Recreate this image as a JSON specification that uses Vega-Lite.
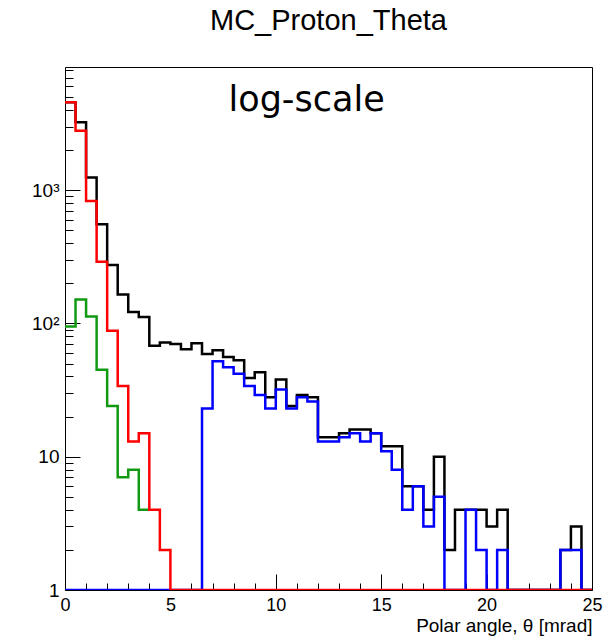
{
  "$schema": "https://vega.github.io/schema/vega-lite/v6.json",
  "autosize": {"type": "none"},
  "width": 527,
  "height": 523,
  "padding": {"left": 65, "top": 67, "right": 24, "bottom": 50},
  "background": "white",
  "title": {"text": "MC_Proton_Theta", "font": "Liberation Sans", "fontSize": 29, "fontWeight": "normal", "color": "#000", "anchor": "middle", "frame": "group", "baseline": "alphabetic", "offset": 2},
  "config": {
    "view": {"stroke": "#000", "strokeWidth": 1},
    "axis": {"grid": false, "domain": false, "labelFont": "Liberation Sans", "labelFontSize": 19, "labelColor": "#000", "tickColor": "#000", "tickWidth": 1, "labelOverlap": false, "labelFlush": false, "titleFont": "Liberation Sans", "titleFontWeight": "normal", "titleColor": "#000"}
  },
  "datasets": {
    "total": [
      {"theta": 0, "count": 4570}, {"theta": 0.5, "count": 3230}, {"theta": 1, "count": 1245}, {"theta": 1.5, "count": 555},
      {"theta": 2, "count": 274}, {"theta": 2.5, "count": 165}, {"theta": 3, "count": 122}, {"theta": 3.5, "count": 112},
      {"theta": 4, "count": 68}, {"theta": 4.5, "count": 72}, {"theta": 5, "count": 70}, {"theta": 5.5, "count": 64},
      {"theta": 6, "count": 71}, {"theta": 6.5, "count": 59}, {"theta": 7, "count": 63}, {"theta": 7.5, "count": 56},
      {"theta": 8, "count": 53}, {"theta": 8.5, "count": 39}, {"theta": 9, "count": 43}, {"theta": 9.5, "count": 28},
      {"theta": 10, "count": 38}, {"theta": 10.5, "count": 24}, {"theta": 11, "count": 29}, {"theta": 11.5, "count": 28},
      {"theta": 12, "count": 14}, {"theta": 12.5, "count": 14}, {"theta": 13, "count": 15}, {"theta": 13.5, "count": 16},
      {"theta": 14, "count": 16}, {"theta": 14.5, "count": 15}, {"theta": 15, "count": 12}, {"theta": 15.5, "count": 12},
      {"theta": 16, "count": 6}, {"theta": 16.5, "count": 6}, {"theta": 17, "count": 4}, {"theta": 17.5, "count": 10},
      {"theta": 18, "count": 2}, {"theta": 18.5, "count": 4}, {"theta": 19, "count": 4}, {"theta": 19.5, "count": 4},
      {"theta": 20, "count": 3}, {"theta": 20.5, "count": 4}, {"theta": 21, "count": 0}, {"theta": 21.5, "count": 0},
      {"theta": 22, "count": 0}, {"theta": 22.5, "count": 0}, {"theta": 23, "count": 0}, {"theta": 23.5, "count": 2},
      {"theta": 24, "count": 3}, {"theta": 24.5, "count": 0}, {"theta": 25, "count": 0}
    ],
    "green": [
      {"theta": 0, "count": 95}, {"theta": 0.5, "count": 151}, {"theta": 1, "count": 113}, {"theta": 1.5, "count": 45},
      {"theta": 2, "count": 24}, {"theta": 2.5, "count": 7}, {"theta": 3, "count": 8}, {"theta": 3.5, "count": 4},
      {"theta": 4, "count": 4}
    ],
    "blue": [
      {"theta": 0, "count": 0}, {"theta": 0.5, "count": 0}, {"theta": 1, "count": 0}, {"theta": 1.5, "count": 0},
      {"theta": 2, "count": 0}, {"theta": 2.5, "count": 0}, {"theta": 3, "count": 0}, {"theta": 3.5, "count": 0},
      {"theta": 4, "count": 0}, {"theta": 4.5, "count": 0}, {"theta": 5, "count": 0}, {"theta": 5.5, "count": 0},
      {"theta": 6, "count": 0}, {"theta": 6.5, "count": 23}, {"theta": 7, "count": 52}, {"theta": 7.5, "count": 47},
      {"theta": 8, "count": 42}, {"theta": 8.5, "count": 34}, {"theta": 9, "count": 29}, {"theta": 9.5, "count": 23},
      {"theta": 10, "count": 32}, {"theta": 10.5, "count": 23}, {"theta": 11, "count": 28}, {"theta": 11.5, "count": 26},
      {"theta": 12, "count": 13}, {"theta": 12.5, "count": 13}, {"theta": 13, "count": 14}, {"theta": 13.5, "count": 15},
      {"theta": 14, "count": 13}, {"theta": 14.5, "count": 15}, {"theta": 15, "count": 11}, {"theta": 15.5, "count": 8},
      {"theta": 16, "count": 4}, {"theta": 16.5, "count": 6}, {"theta": 17, "count": 3}, {"theta": 17.5, "count": 5},
      {"theta": 18, "count": 0}, {"theta": 18.5, "count": 0}, {"theta": 19, "count": 4}, {"theta": 19.5, "count": 2},
      {"theta": 20, "count": 0}, {"theta": 20.5, "count": 2}, {"theta": 21, "count": 0}, {"theta": 21.5, "count": 0},
      {"theta": 22, "count": 0}, {"theta": 22.5, "count": 0}, {"theta": 23, "count": 0}, {"theta": 23.5, "count": 2},
      {"theta": 24, "count": 2}, {"theta": 24.5, "count": 0}, {"theta": 25, "count": 0}
    ],
    "red": [
      {"theta": 0, "count": 4570}, {"theta": 0.5, "count": 2790}, {"theta": 1, "count": 830}, {"theta": 1.5, "count": 291},
      {"theta": 2, "count": 88}, {"theta": 2.5, "count": 34}, {"theta": 3, "count": 13}, {"theta": 3.5, "count": 15},
      {"theta": 4, "count": 4}, {"theta": 4.5, "count": 2}, {"theta": 5, "count": 0}, {"theta": 5.5, "count": 0},
      {"theta": 6, "count": 0}, {"theta": 6.5, "count": 0}, {"theta": 7, "count": 0}, {"theta": 7.5, "count": 0},
      {"theta": 8, "count": 0}, {"theta": 8.5, "count": 0}, {"theta": 9, "count": 0}, {"theta": 9.5, "count": 0},
      {"theta": 10, "count": 0}, {"theta": 10.5, "count": 0}, {"theta": 11, "count": 0}, {"theta": 11.5, "count": 0},
      {"theta": 12, "count": 0}, {"theta": 12.5, "count": 0}, {"theta": 13, "count": 0}, {"theta": 13.5, "count": 0},
      {"theta": 14, "count": 0}, {"theta": 14.5, "count": 0}, {"theta": 15, "count": 0}, {"theta": 15.5, "count": 0},
      {"theta": 16, "count": 0}, {"theta": 16.5, "count": 0}, {"theta": 17, "count": 0}, {"theta": 17.5, "count": 0},
      {"theta": 18, "count": 0}, {"theta": 18.5, "count": 0}, {"theta": 19, "count": 0}, {"theta": 19.5, "count": 0},
      {"theta": 20, "count": 0}, {"theta": 20.5, "count": 0}, {"theta": 21, "count": 0}, {"theta": 21.5, "count": 0},
      {"theta": 22, "count": 0}, {"theta": 22.5, "count": 0}, {"theta": 23, "count": 0}, {"theta": 23.5, "count": 0},
      {"theta": 24, "count": 0}, {"theta": 24.5, "count": 0}, {"theta": 25, "count": 0}
    ],
    "note": [{"label": "log-scale", "theta": 11.46, "count": 3920}]
  },
  "encoding": {
    "x": {
      "field": "theta", "type": "quantitative",
      "scale": {"domain": [0, 25], "nice": false, "zero": false},
      "axis": {
        "title": "Polar angle, θ [mrad]", "titleFontSize": 19, "titleAnchor": "end", "titleAlign": "right", "titleBaseline": "alphabetic", "titlePadding": 8,
        "values": [0,1,2,3,4,5,6,7,8,9,10,11,12,13,14,15,16,17,18,19,20,21,22,23,24,25],
        "labelExpr": "datum.value % 5 == 0 ? datum.label : ''",
        "labelFontSize": 18,
        "tickSize": {"condition": {"test": "datum.value % 5 == 0", "value": -16}, "value": -7},
        "labelPadding": 22
      }
    },
    "y": {
      "field": "count", "type": "quantitative",
      "scale": {"type": "log", "domain": [1, 8400], "nice": false, "clamp": true},
      "axis": {
        "title": null,
        "values": [1,2,3,4,5,6,7,8,9,10,20,30,40,50,60,70,80,90,100,200,300,400,500,600,700,800,900,1000,2000,3000,4000,5000,6000,7000,8000],
        "labelExpr": "datum.value == 1 ? '1' : datum.value == 10 ? '10' : datum.value == 100 ? '10²' : datum.value == 1000 ? '10³' : ''",
        "tickSize": {"condition": {"test": "datum.value == 1 || datum.value == 10 || datum.value == 100 || datum.value == 1000", "value": -15}, "value": -8},
        "labelPadding": 21
      }
    }
  },
  "layer": [
    {"data": {"name": "total"}, "mark": {"type": "line", "interpolate": "step-after", "color": "#000000", "strokeWidth": 2.5, "invalid": null, "clip": true}},
    {"data": {"name": "green"}, "mark": {"type": "line", "interpolate": "step-after", "color": "#129912", "strokeWidth": 2.5, "invalid": null, "clip": true}},
    {"data": {"name": "blue"}, "mark": {"type": "line", "interpolate": "step-after", "color": "#0000ff", "strokeWidth": 2.5, "invalid": null, "clip": true}},
    {"data": {"name": "red"}, "mark": {"type": "line", "interpolate": "step-after", "color": "#ff0000", "strokeWidth": 2.5, "invalid": null, "clip": true}},
    {
      "data": {"name": "note"},
      "mark": {"type": "text", "font": "DejaVu Sans", "fontSize": 35, "color": "#000", "align": "center", "baseline": "alphabetic"},
      "encoding": {"text": {"field": "label", "type": "nominal"}}
    }
  ]
}
